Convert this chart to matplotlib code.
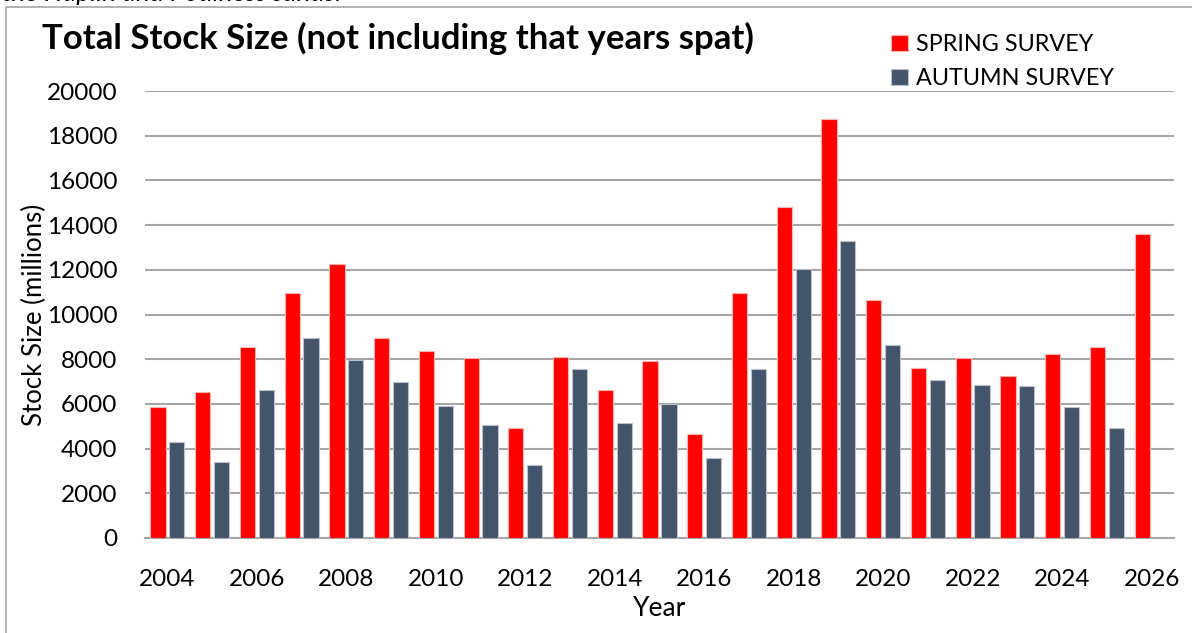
"""Total stock size bar chart: spring vs autumn survey by year."""
import matplotlib

matplotlib.use("Agg")
import matplotlib.pyplot as plt
import numpy as np
from matplotlib.patches import Rectangle

# ---------------------------------------------------------------------------
# Data (millions)
# ---------------------------------------------------------------------------
years = list(range(2004, 2027))
spring = [5850, 6550, 8550, 10950, 12250, 8950, 8380, 8050, 4930, 8100,
          6610, 7910, 4650, 10950, 14800, 18730, 10630, 7600, 8050, 7250,
          8230, 8560, 13600]
autumn = [4300, 3410, 6630, 8950, 7950, 6970, 5900, 5070, 3250, 7560,
          5140, 6010, 3580, 7570, 12030, 13300, 8630, 7050, 6860, 6790,
          5860, 4920, np.nan]
tick_years = [y for y in years if y % 2 == 0]

SPRING_COLOR = "#FF0000"
AUTUMN_COLOR = "#44546A"
GRID_COLOR = "#A6A6A6"

plt.rcParams["font.family"] = ["Lato", "DejaVu Sans"]

fig = plt.figure(figsize=(11.92, 6.33), dpi=100)
ax = fig.add_axes([145 / 1192, 1 - 538 / 633, (1174 - 145) / 1192, (538 - 91) / 633])

x = np.arange(len(years))
ax.bar(x - 0.21, spring, width=0.34, color=SPRING_COLOR,
       edgecolor="#FFB0B0", linewidth=0.8, label="SPRING SURVEY", zorder=3)
ax.bar(x + 0.21, autumn, width=0.34, color=AUTUMN_COLOR,
       edgecolor="#B8C0CC", linewidth=0.8, label="AUTUMN SURVEY", zorder=3)

ax.set_xlim(-0.5, len(years) - 0.5)
ax.set_ylim(0, 20000)
ax.set_yticks(np.arange(0, 20001, 2000))
ax.set_xticks([years.index(y) for y in tick_years])
ax.set_xticklabels([str(y) for y in tick_years])
ax.tick_params(axis="both", length=0, labelsize=17.5)
ax.tick_params(axis="x", pad=22)
ax.tick_params(axis="y", pad=20)
ax.grid(axis="y", color=GRID_COLOR, linewidth=1.5, zorder=0)
for side in ("left", "right", "top"):
    ax.spines[side].set_visible(False)
ax.spines["bottom"].set_color(GRID_COLOR)
ax.spines["bottom"].set_linewidth(1.5)

ax.set_xlabel("Year", fontsize=19, labelpad=5)
ax.set_ylabel("Stock Size (millions)", fontsize=18.5, labelpad=0)

fig.text(42 / 1192, 1 - 38 / 633, "Total Stock Size (not including that years spat)",
         fontsize=25, fontweight="bold", va="center", ha="left")

ax.legend(loc="upper left", bbox_to_anchor=(882 / 1192, 1 - 25 / 633),
          bbox_transform=fig.transFigure, frameon=False, fontsize=16.8,
          handlelength=0.7, handleheight=0.7, handletextpad=0.35,
          labelspacing=0.55, borderaxespad=0)

# chart frame (cut off by the crop) and the caption line above it
fig.patches.append(Rectangle((6 / 1192, -0.1), 1.2, 1.1 - 7 / 633,
                             transform=fig.transFigure, fill=False,
                             edgecolor="#A6A6A6", linewidth=1.2))
fig.text(2 / 1192, 1 + 6 / 633, "the Haplin and Podiness sands.",
         fontsize=19, fontstyle="italic", va="center", ha="left")

fig.savefig("out.png", dpi=100)
